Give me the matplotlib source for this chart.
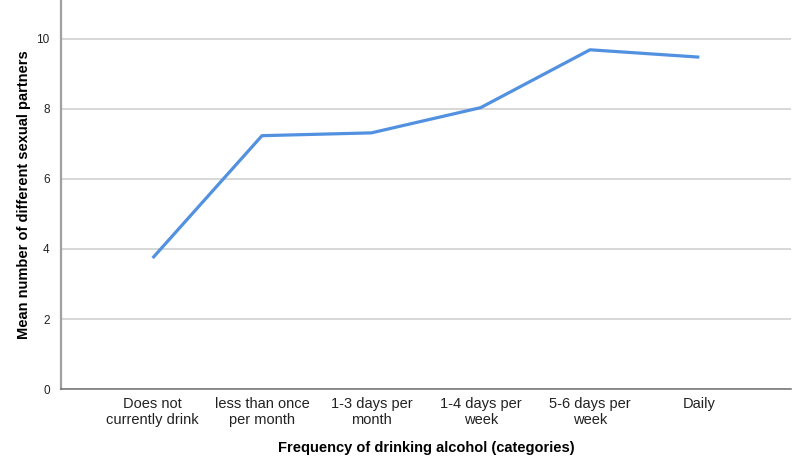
import matplotlib.pyplot as plt

categories = ['Does not\ncurrently drink', 'less than once\nper month', '1-3 days per\nmonth',
              '1-4 days per\nweek', '5-6 days per\nweek', 'Daily']
mean_partners = [3.74, 7.23, 7.31, 8.03, 9.68, 9.47]
yticks = [0, 2, 4, 6, 8, 10]

plt.rcParams['font.family'] = ['Liberation Sans', 'DejaVu Sans']

fig = plt.figure(figsize=(8, 4.7), dpi=100)
ax = fig.add_axes([0.076, 0.172, 0.913, 0.828])

x = range(len(categories))
ax.plot(x, mean_partners, color='#5191e0', linewidth=2.3, solid_capstyle='butt', zorder=3)

ax.set_xlim(-0.84, len(categories) - 1 + 0.84)
ax.set_ylim(0, 11.1)
ax.set_yticks(yticks)
ax.set_yticklabels([str(t) for t in yticks], fontsize=8.5, color='#222222')
ax.set_xticks(list(x))
ax.set_xticklabels(categories, fontsize=10.5, color='#222222', linespacing=1.15)
ax.tick_params(length=0, pad=6)
ax.tick_params(axis='y', pad=8)
ax.grid(axis='y', color='#d4d4d4', linewidth=1.3)
ax.set_axisbelow(True)

for s in ['top', 'right']:
    ax.spines[s].set_visible(False)
ax.spines['left'].set_color('#a0a0a0')
ax.spines['left'].set_linewidth(1.6)
ax.spines['bottom'].set_color('#707070')
ax.spines['bottom'].set_linewidth(1.1)

ax.set_xlabel('Frequency of drinking alcohol (categories)', fontsize=10.5,
              fontweight='bold', labelpad=10)
ax.set_ylabel('Mean number of different sexual partners', fontsize=10.5,
              fontweight='bold', labelpad=4)

fig.savefig('out.png', dpi=100)
